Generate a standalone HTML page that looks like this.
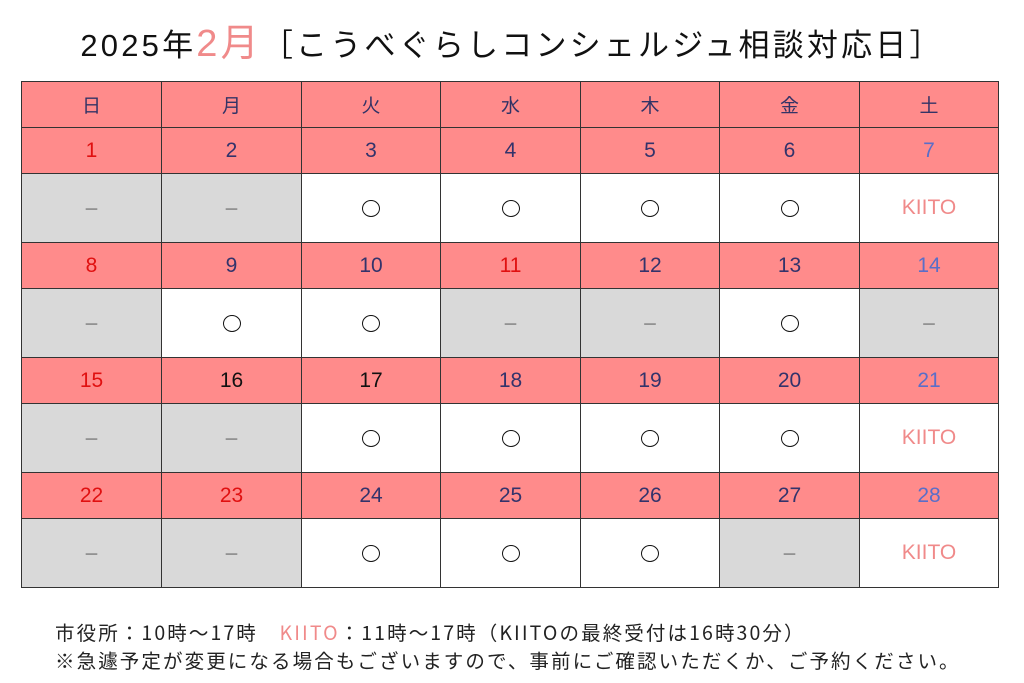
<!DOCTYPE html>
<html><head><meta charset="utf-8"><style>
body{margin:0;width:1024px;height:683px;background:#fff;overflow:hidden;position:relative;font-family:"Liberation Sans","Noto Sans CJK JP",sans-serif}
.title{position:absolute;left:0;width:1024px;top:12px;text-align:center;font-size:31px;color:#111;white-space:nowrap;letter-spacing:3.2px}
.title .m{color:#f08a8a;font-size:38px}
table{position:absolute;left:21px;top:81px;border-collapse:collapse;table-layout:fixed}
td{border:1px solid #333;text-align:center;padding:0;font-size:21px}
tr.h td{height:45px;background:#ff8b8b;color:#333366;font-size:19px;font-family:"Noto Sans CJK JP",sans-serif}
tr.d td{height:45px;background:#ff8b8b;color:#33336b}
tr.s td{height:68px;background:#fff;color:#111}
tr.s td.g{background:#d9d9d9;color:#666;font-size:16px}
.r{color:#e01010!important}.b{color:#5a6ec8!important}.k{color:#111!important}
.ki{color:#f08a8a!important}
.o{display:inline-block;width:16px;height:15px;border:1.6px solid #111;border-radius:50%;vertical-align:middle}
.note{position:absolute;left:55px;font-size:19.5px;color:#222;white-space:nowrap;font-family:"Noto Sans CJK JP",sans-serif;letter-spacing:2.1px}
</style></head><body>
<div class="title">2025年<span class="m">2月</span>［こうべぐらしコンシェルジュ相談対応日］</div>
<table>
<colgroup><col style="width:140px"><col style="width:140px"><col style="width:139px"><col style="width:140px"><col style="width:139px"><col style="width:140px"><col style="width:139px"></colgroup>
<tr class="h"><td>日</td><td>月</td><td>火</td><td>水</td><td>木</td><td>金</td><td>土</td></tr>
<tr class="d"><td class="r">1</td><td>2</td><td>3</td><td>4</td><td>5</td><td>6</td><td class="b">7</td></tr>
<tr class="s"><td class="g">－</td><td class="g">－</td><td><span class="o"></span></td><td><span class="o"></span></td><td><span class="o"></span></td><td><span class="o"></span></td><td class="ki">KIITO</td></tr>
<tr class="d"><td class="r">8</td><td>9</td><td>10</td><td class="r">11</td><td>12</td><td>13</td><td class="b">14</td></tr>
<tr class="s"><td class="g">－</td><td><span class="o"></span></td><td><span class="o"></span></td><td class="g">－</td><td class="g">－</td><td><span class="o"></span></td><td class="g">－</td></tr>
<tr class="d"><td class="r">15</td><td class="k">16</td><td class="k">17</td><td>18</td><td>19</td><td>20</td><td class="b">21</td></tr>
<tr class="s"><td class="g">－</td><td class="g">－</td><td><span class="o"></span></td><td><span class="o"></span></td><td><span class="o"></span></td><td><span class="o"></span></td><td class="ki">KIITO</td></tr>
<tr class="d"><td class="r">22</td><td class="r">23</td><td>24</td><td>25</td><td>26</td><td>27</td><td class="b">28</td></tr>
<tr class="s"><td class="g">－</td><td class="g">－</td><td><span class="o"></span></td><td><span class="o"></span></td><td><span class="o"></span></td><td class="g">－</td><td class="ki">KIITO</td></tr>
</table>
<div class="note" style="top:617px">市役所：10時～17時　<span style="color:#f08a8a">KIITO</span>：11時～17時（KIITOの最終受付は16時30分）</div>
<div class="note" style="top:645px">※急遽予定が変更になる場合もございますので、事前にご確認いただくか、ご予約ください。</div>
</body></html>
